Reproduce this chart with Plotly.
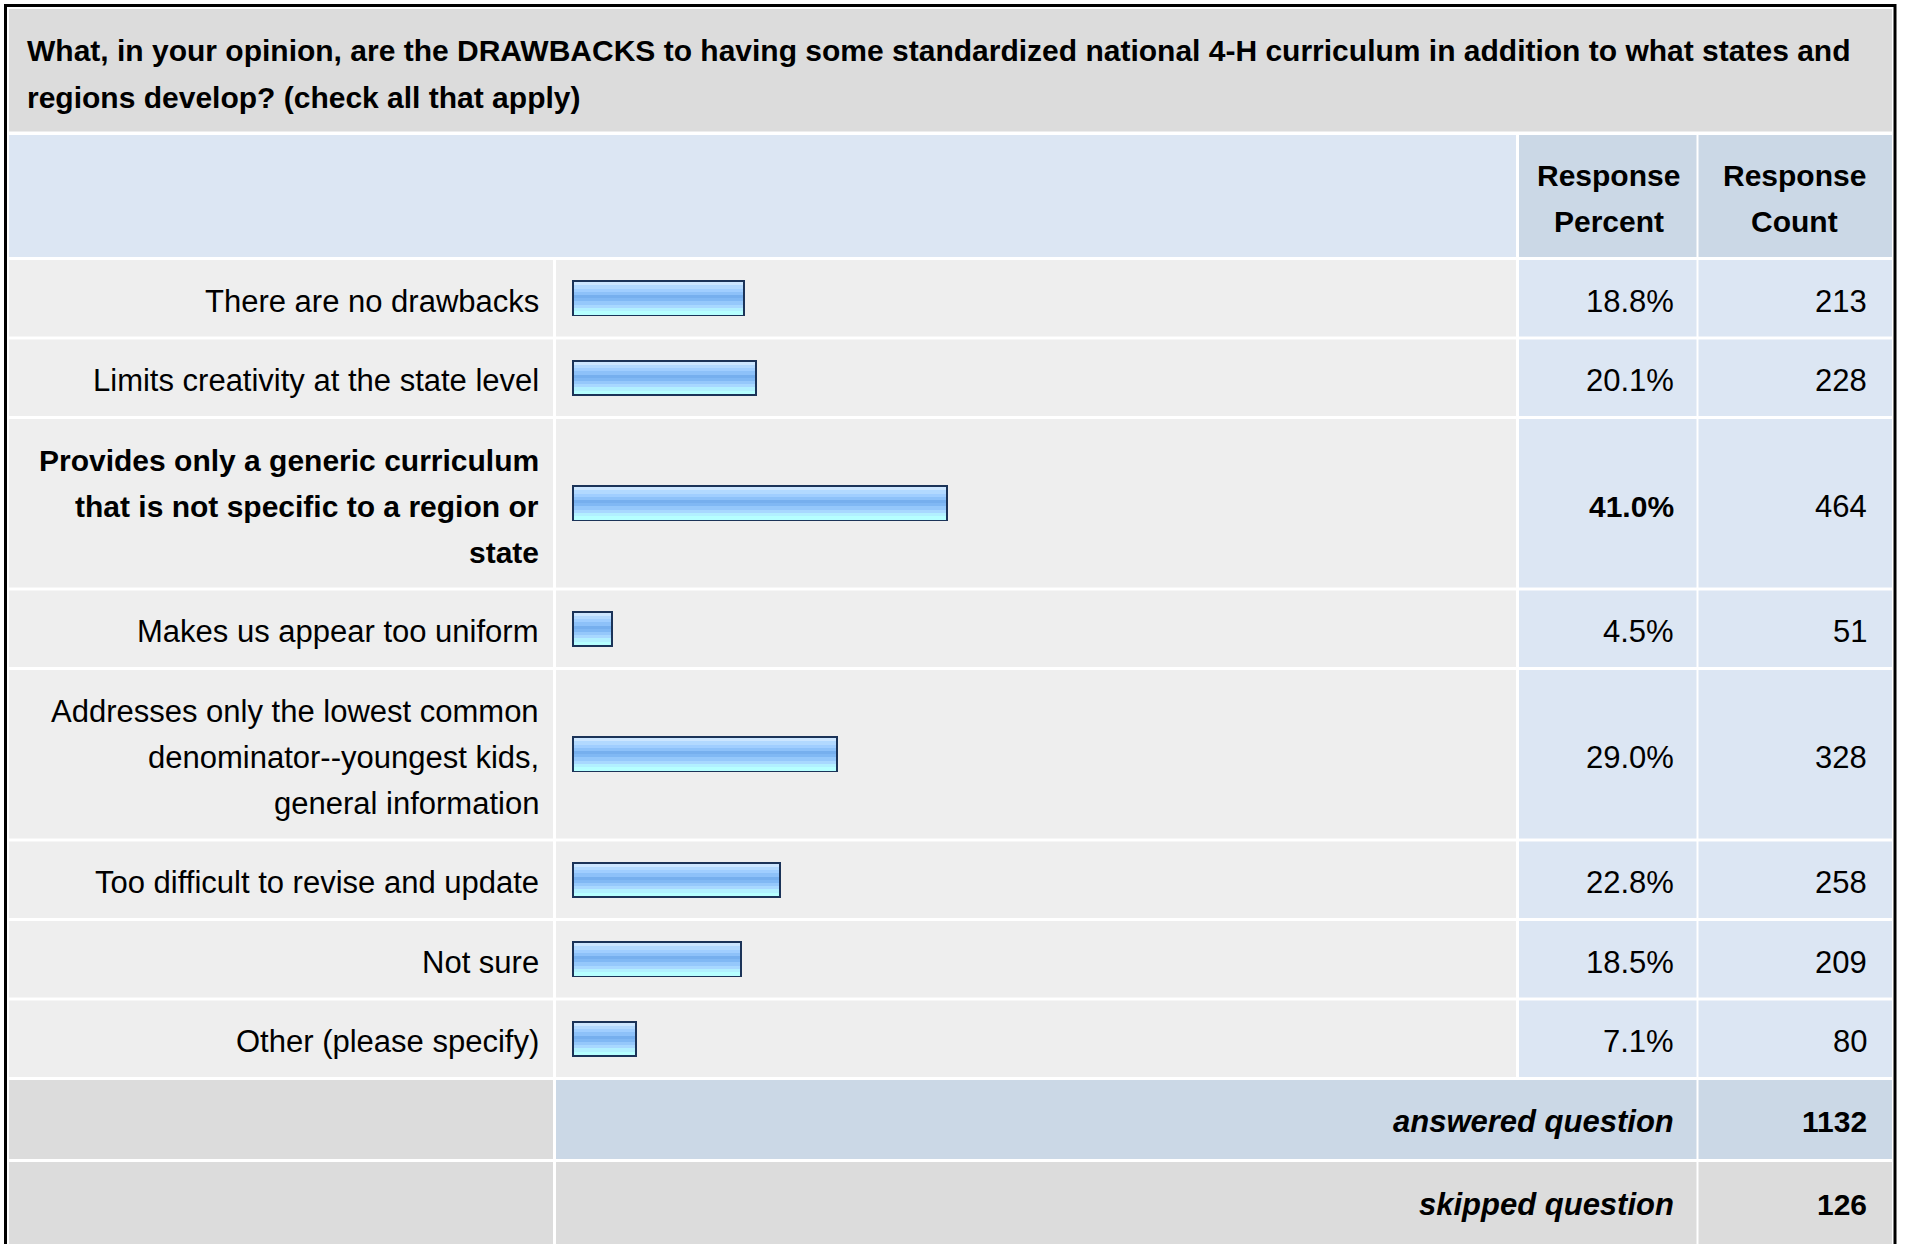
import plotly.graph_objects as go

# survey question: drawbacks of a standardized national 4-H curriculum
question = [
    "What, in your opinion, are the DRAWBACKS to having some standardized national 4-H curriculum in addition to what states and",
    "regions develop? (check all that apply)",
]
labels = [
    "There are no drawbacks",
    "Limits creativity at the state level",
    "Provides only a generic curriculum\nthat is not specific to a region or\nstate",
    "Makes us appear too uniform",
    "Addresses only the lowest common\ndenominator--youngest kids,\ngeneral information",
    "Too difficult to revise and update",
    "Not sure",
    "Other (please specify)",
]
percents = [18.8, 20.1, 41.0, 4.5, 29.0, 22.8, 18.5, 7.1]
counts = [213, 228, 464, 51, 328, 258, 209, 80]
bold_row = 2
answered = 1132
skipped = 126

W, H = 1907, 1244
FONT = "Liberation Sans, Arial, sans-serif"
FS_BOLD = 30
FS_REG = 31
LINE = 46          # line pitch inside a cell
PAD = 30.5         # vertical padding of a row
GAP = 3            # white cell spacing

GRAY = "#DCDCDC"
ROW_BG = "#EEEEEE"
LBLUE = "#DCE6F3"
DBLUE = "#CBD8E6"
NAVY = "#1B3358"
STRIPES = ["#CCE6FF", "#B2D9FF", "#A0CEFF", "#8DC1F9", "#76AFEE",
           "#80B8F4", "#95C8FB", "#A8D8FF", "#B2F0FF", "#B6FFFF"]

# column edges (px)
X_L, X_LBL, X_BAR, X_PCT, X_R = 9, 554.5, 1517.5, 1697.5, 1892
BAR_X0 = 572
PX_PER_PCT = 9.18
BAR_H = 36
BORDER = 2
TX_LBL, TX_PCT, TX_CNT = 540.5, 1676, 1869


def px(x):
    return x / W


def py(y):
    return 1 - y / H


shapes, annotations = [], []


def rect(x0, y0, x1, y1, color):
    shapes.append(dict(type="rect", xref="paper", yref="paper", layer="below",
                       x0=px(x0), x1=px(x1), y0=py(y1), y1=py(y0),
                       fillcolor=color, line=dict(width=0)))


def text(x, y, s, anchor="right", bold=False, italic=False):
    size = FS_REG
    if bold:
        s = f"<b>{s}</b>"
        size = FS_BOLD
    if italic:
        s = f"<i>{s}</i>"
        size = FS_REG
    annotations.append(dict(xref="paper", yref="paper", x=px(x), y=py(y), text=s,
                            showarrow=False, xanchor=anchor, yanchor="middle",
                            font=dict(family=FONT, size=size, color="#000000")))


def lines_text(x, yc, s, anchor="right", bold=False):
    parts = s.split("\n")
    for k, part in enumerate(parts):
        text(x, yc + (k - (len(parts) - 1) / 2) * LINE, part, anchor, bold)


# title and header
rect(X_L, 9, X_R, 131.5, GRAY)
text(25, 51, question[0], anchor="left", bold=True)
text(25, 97, question[1], anchor="left", bold=True)
rect(X_L, 135, X_BAR - 1.5, 257, LBLUE)
rect(X_BAR + 1.5, 135, X_PCT - 1, 257, DBLUE)
rect(X_PCT + 1, 135, X_R, 257, DBLUE)
lines_text((X_BAR + X_PCT) / 2 + 1, 198.5, "Response\nPercent", anchor="center", bold=True)
lines_text((X_PCT + X_R) / 2, 198.5, "Response\nCount", anchor="center", bold=True)

# data rows
centers = []
y = 260
for i, lab in enumerate(labels):
    h = PAD + LINE * len(lab.split("\n"))
    yc = y + h / 2
    centers.append(yc)
    rect(X_L, y, X_LBL - 1.5, y + h, ROW_BG)
    rect(X_LBL + 1.5, y, X_BAR - 1.5, y + h, ROW_BG)
    rect(X_BAR + 1.5, y, X_PCT - 1, y + h, LBLUE)
    rect(X_PCT + 1, y, X_R, y + h, LBLUE)
    b = i == bold_row
    lines_text(TX_LBL, yc + 3, lab, bold=b)
    text(TX_PCT, yc + 3, f"{percents[i]:.1f}%", bold=b)
    text(TX_CNT, yc + 3, str(counts[i]))
    y += h + GAP

# footer rows
ya = y
rect(X_L, ya, X_LBL - 1.5, ya + 79, GRAY)
rect(X_LBL + 1.5, ya, X_PCT - 1, ya + 79, DBLUE)
rect(X_PCT + 1, ya, X_R, ya + 79, DBLUE)
text(TX_PCT, ya + 41.5, "answered question", bold=True, italic=True)
text(TX_CNT, ya + 41.5, str(answered), bold=True)
ys = ya + 82
rect(X_L, ys, X_LBL - 1.5, H + 20, GRAY)
rect(X_LBL + 1.5, ys, X_PCT - 1, H + 20, GRAY)
rect(X_PCT + 1, ys, X_R, H + 20, GRAY)
text(TX_PCT, ys + 42.5, "skipped question", bold=True, italic=True)
text(TX_CNT, ys + 42.5, str(skipped), bold=True)

# outer frame
shapes.append(dict(type="rect", xref="paper", yref="paper", layer="above",
                   x0=px(5.5), x1=px(1895), y0=py(H + 20), y1=py(5.5),
                   line=dict(color="#000000", width=3), fillcolor="rgba(0,0,0,0)"))

fig = go.Figure()
# navy outline bar, then horizontal gradient stripes on top
fig.add_trace(go.Bar(x=percents, y=centers, orientation="h", base=0,
                     width=BAR_H, offset=-BAR_H / 2, marker=dict(color=NAVY, line=dict(width=0)),
                     hoverinfo="skip", showlegend=False))
inner = BAR_H - 2 * BORDER
sh = inner / len(STRIPES)
inset = BORDER / PX_PER_PCT
for k, col in enumerate(STRIPES):
    fig.add_trace(go.Bar(x=[p - 2 * inset for p in percents], y=centers, orientation="h",
                         base=inset, width=sh + 0.3, offset=-inner / 2 + k * sh,
                         marker=dict(color=col, line=dict(width=0)),
                         hoverinfo="skip", showlegend=False))

fig.update_layout(
    width=W, height=H,
    margin=dict(l=0, r=0, t=0, b=0),
    paper_bgcolor="#FFFFFF", plot_bgcolor="rgba(0,0,0,0)",
    barmode="overlay", bargap=0,
    xaxis=dict(domain=[px(BAR_X0), px(X_BAR)], range=[0, (X_BAR - BAR_X0) / PX_PER_PCT],
               visible=False, fixedrange=True),
    yaxis=dict(domain=[0, 1], range=[H, 0], visible=False, fixedrange=True),
    shapes=shapes, annotations=annotations,
)

# the page's default body margin would push the figure 8px off the top-left corner
fig.write_html("out.html", config={"displayModeBar": False},
               post_script="document.body.style.margin='0';")
